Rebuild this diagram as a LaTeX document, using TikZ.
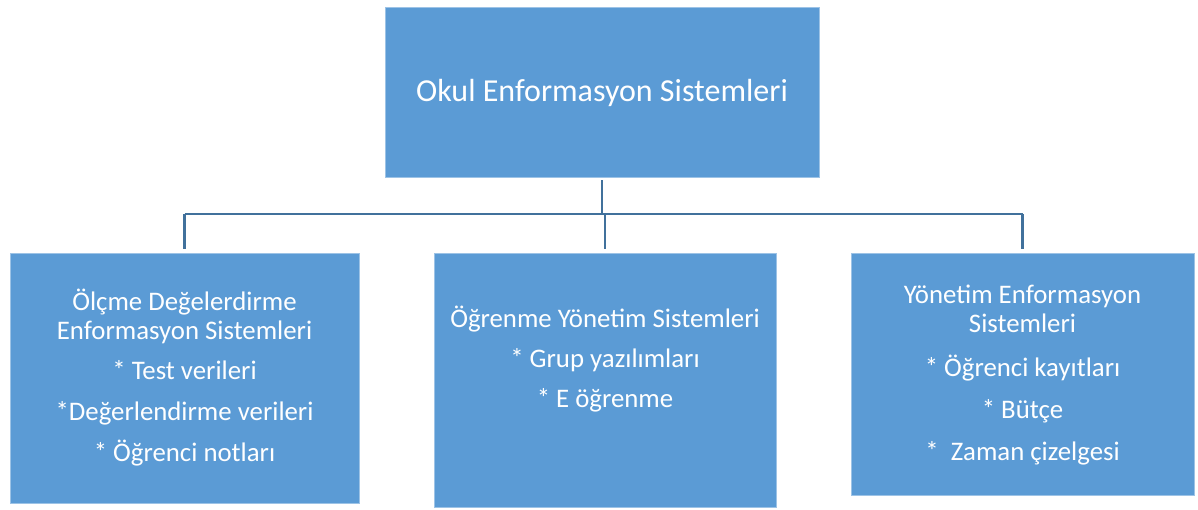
\documentclass[tikz,border=0pt]{standalone}
\usepackage{fontspec}
\setmainfont{Carlito}
\definecolor{boxblue}{HTML}{5B9BD5}
\definecolor{boxedge}{HTML}{9DC3E6}
\definecolor{linkblue}{HTML}{41719C}
\begin{document}
\begin{tikzpicture}[x=1pt,y=-1pt,
  boxst/.style={rectangle,fill=boxblue,draw=boxedge,line width=0.6pt,inner sep=0pt},
  conn/.style={draw=linkblue,line width=2.9pt},
  txt/.style={text=white,anchor=base,inner sep=0pt,font=\fontsize{26.8}{30}\selectfont},
  toptxt/.style={text=white,anchor=base,inner sep=0pt,font=\fontsize{32}{36}\selectfont}]
\useasboundingbox (0,0) rectangle (1198,509);

% boxes
\node[boxst,minimum width=434pt,minimum height=170pt] (top) at (602,92) {};
\node[boxst,minimum width=349pt,minimum height=250pt] (lbox) at (184.5,378) {};
\node[boxst,minimum width=342pt,minimum height=254pt] (mbox) at (605,380) {};
\node[boxst,minimum width=343pt,minimum height=242pt] (rbox) at (1022.5,374) {};

% connectors
\coordinate (busL) at (184.5,214);
\coordinate (busR) at (1022.5,214);
\draw[conn] (busL) -- (busR);
\draw[conn,shorten <=3pt] (top.south) -- (top.south |- busL);
\draw[conn,shorten >=4pt] (lbox.north |- busL) -- (lbox.north);
\draw[conn,shorten >=4pt] (mbox.north |- busL) -- (mbox.north);
\draw[conn,shorten >=4pt] (rbox.north |- busL) -- (rbox.north);

% top title
\node[toptxt] (t0) at (602,101) {Okul Enformasyon Sistemleri};

% left box
\node[txt] (l1) at (184.5,310.7) {Ölçme Değelerdirme};
\node[txt] (l2) at (184.5,339) {Enformasyon Sistemleri};
\node[txt] (l3) at (184.5,379) {* Test verileri};
\node[txt] (l4) at (184.5,420) {*Değerlendirme verileri};
\node[txt] (l5) at (184.5,461) {* Öğrenci notları};

% middle box
\node[txt] (m1) at (605,327) {Öğrenme Yönetim Sistemleri};
\node[txt] (m2) at (605,367) {* Grup yazılımları};
\node[txt] (m3) at (605,407) {* E öğrenme};

% right box
\node[txt] (r1) at (1022.5,303) {Yönetim Enformasyon};
\node[txt] (r2) at (1022.5,332) {Sistemleri};
\node[txt] (r3) at (1022.5,376) {* Öğrenci kayıtları};
\node[txt] (r4) at (1022.5,418) {* Bütçe};
\node[txt] (r5) at (1022.5,460) {*\ \ Zaman çizelgesi};
\end{tikzpicture}
\end{document}
